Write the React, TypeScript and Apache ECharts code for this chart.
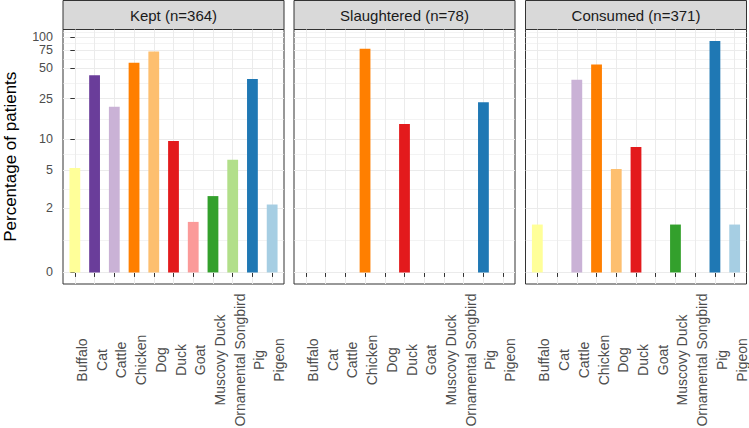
import React, { useEffect, useRef } from "react";
import * as echarts from "echarts";

const categories = [
  "Buffalo", "Cat", "Cattle", "Chicken", "Dog", "Duck", "Goat",
  "Muscovy Duck", "Ornamental Songbird", "Pig", "Pigeon",
];
const facetTitles = ["Kept (n=364)", "Slaughtered (n=78)", "Consumed (n=371)"];
const kept = [5.2, 42.3, 20.9, 56.3, 72.3, 9.6, 1.4, 2.7, 6.3, 39.0, 2.2];
const slaughtered = [0, 0, 0, 76.9, 0, 14.1, 0, 0, 0, 23.1, 0];
const consumed = [1.3, 0, 38.3, 53.9, 5.1, 8.4, 0, 1.3, 0, 91.6, 1.3];
const yBreaks = [0, 2, 5, 10, 25, 50, 75, 100, 125];
const palette = [
  "#FFFF99", "#6A3D9A", "#CAB2D6", "#FF7F00", "#FDBF6F", "#E31A1C",
  "#FB9A99", "#33A02C", "#B2DF8A", "#1F78B4", "#A6CEE3",
];
const yTitle = "Percentage of patients";

const tf = (v: number) => Math.asinh(v);
const FONT = "'Liberation Sans', Arial, sans-serif";

export default function App() {
  const ref = useRef<HTMLDivElement>(null);
  useEffect(() => {
    const chart = echarts.init(ref.current!, null, { renderer: "svg" });
    const panels = [kept, slaughtered, consumed];
    const tmax = Math.max(...panels.flat().map(tf));
    const yMin = -0.05 * tmax;
    const yMax = 1.05 * tmax;
    const tb = yBreaks.map(tf);
    const majors = tb.filter((v) => v >= yMin && v <= yMax);
    const minors = tb
      .slice(0, -1)
      .map((m, i) => (m + tb[i + 1]) / 2)
      .filter((v) => v >= yMin && v <= yMax);
    const labelsA = majors.filter((_, i) => i % 2 === 0);
    const labelsB = majors.filter((_, i) => i % 2 === 1);

    const lefts = [63, 294, 525.5];
    const width = 221;
    const top = 29.5;
    const height = 254.5;

    const grids: any[] = [];
    const xAxes: any[] = [];
    const yAxes: any[] = [];
    const series: any[] = [];
    const graphics: any[] = [];

    const yLabelStyle = {
      margin: 10,
      formatter: (v: number) => String(Math.round(Math.sinh(v))),
      fontSize: 12.5, color: "#4D4D4D", fontFamily: FONT,
      hideOverlap: false, showMinLabel: true, showMaxLabel: true,
    };

    panels.forEach((vals, p) => {
      grids.push({
        left: lefts[p], top, width, height,
        show: true, borderColor: "#333333", borderWidth: 1, backgroundColor: "#ffffff",
        outerBoundsMode: "none",
      });
      xAxes.push({
        type: "value", gridIndex: p, min: -0.6, max: categories.length - 1 + 0.6,
        axisLine: { show: false },
        axisTick: {
          show: true, length: 4.5, customValues: categories.map((_, i) => i),
          lineStyle: { color: "#333333", width: 1 },
        },
        axisLabel: {
          show: true, customValues: categories.map((_, i) => i),
          formatter: (v: number) => categories[Math.round(v)] ?? "",
          rotate: 90, align: "center", verticalAlign: "top", margin: 76,
          fontSize: 14, color: "#4D4D4D", fontFamily: FONT,
          hideOverlap: false, showMinLabel: true, showMaxLabel: true,
        },
        splitLine: { show: true, lineStyle: { color: "#EBEBEB", width: 1 } },
      });
      yAxes.push({
        type: "value", gridIndex: p, min: yMin, max: yMax,
        axisLine: { show: false },
        axisTick: {
          show: p === 0, length: 4.5, customValues: majors,
          lineStyle: { color: "#333333", width: 1 },
        },
        axisLabel: { show: p === 0, customValues: labelsA, ...yLabelStyle },
        splitLine: { show: true, lineStyle: { color: "#EBEBEB", width: 1 } },
        name: p === 0 ? yTitle : "",
        nameLocation: "middle", nameRotate: 90, nameGap: 44,
        nameTextStyle: { fontSize: 17, color: "#000000", fontFamily: FONT },
        z: 1,
      });
      yAxes.push({
        type: "value", gridIndex: p, min: yMin, max: yMax,
        axisLine: { show: false },
        axisTick: { show: false, customValues: minors },
        axisLabel: { show: p === 0, customValues: labelsB, ...yLabelStyle },
        splitLine: { show: true, lineStyle: { color: "#EBEBEB", width: 0.6 } },
        position: "left",
        offset: 0,
        z: 0,
      });
      series.push({
        type: "bar", xAxisIndex: p, yAxisIndex: p * 2, barWidth: 10.8,
        data: vals.map((v, i) => ({
          value: [i, tf(v)],
          itemStyle: { color: palette[i] },
        })),
        z: 3,
      });
      graphics.push({
        type: "rect",
        shape: { x: lefts[p], y: 0.5, width, height: top - 0.5 },
        style: { fill: "#D9D9D9", stroke: "#333333", lineWidth: 1 },
      });
      graphics.push({
        type: "text",
        x: lefts[p] + width / 2, y: 15.5,
        style: {
          text: facetTitles[p], fill: "#1A1A1A", fontSize: 15, fontFamily: FONT,
          align: "center", verticalAlign: "middle",
        },
      });
    });

    chart.setOption({
      animation: false,
      backgroundColor: "#ffffff",
      textStyle: { fontFamily: FONT },
      grid: grids,
      xAxis: xAxes,
      yAxis: yAxes,
      series,
      graphic: graphics,
    });
    return () => chart.dispose();
  }, []);
  return (
    <div
      ref={ref}
      style={{ position: "absolute", left: 0, top: 0, width: 749, height: 428 }}
    />
  );
}
